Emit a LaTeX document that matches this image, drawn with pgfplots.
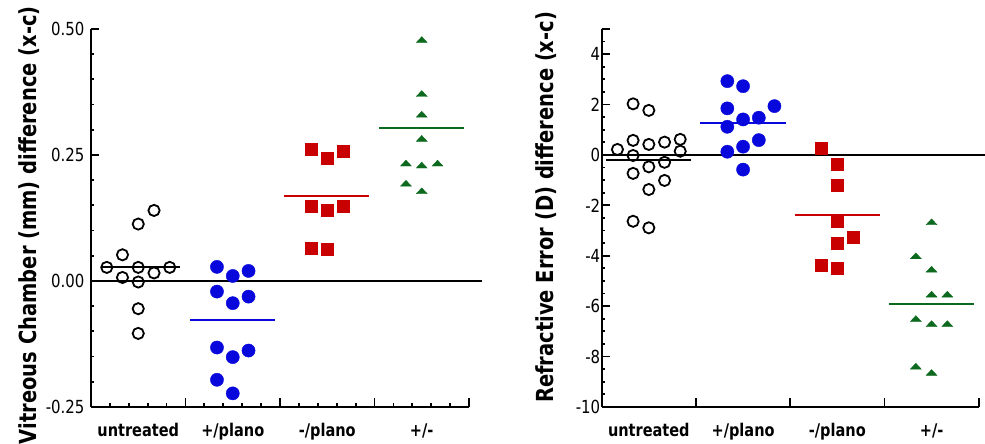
\documentclass[border=0pt]{standalone}
\usepackage{fontspec}
\setmainfont{DejaVu Sans}[FakeStretch=0.83]
\usepackage{pgfplots}
\pgfplotsset{compat=1.18}

\definecolor{grpblue}{RGB}{8,8,220}
\definecolor{grpred}{RGB}{200,0,0}
\definecolor{grpgreen}{RGB}{12,105,30}

\pgfplotsset{
  dotplot/.style={
    scale only axis, width=378pt, height=378pt,
    xmin=0, xmax=4,
    axis lines*=left,
    axis line style={line width=1.8pt},
    every tick/.style={black, line width=1.8pt},
    tick align=inside,
    major tick length=8.5pt, minor tick length=3.5pt,
    xtick={0,1,2,3,4},
    x tick label as interval,
    xticklabels={untreated,+/plano,-/plano,+/-},
    xticklabel style={font=\fontsize{17.5}{20}\selectfont\bfseries, yshift=-13pt},
    yticklabel style={font=\fontsize{18}{20}\selectfont},
    /pgf/number format/assume math mode=true,
    ylabel style={font=\fontsize{23.5}{26}\selectfont\bfseries, anchor=center},
    clip=false,
  },
  untreated/.style={only marks, mark=o, black, mark size=5.6pt,
    mark options={line width=1.8pt, fill=white}},
  plusplano/.style={only marks, mark=*, grpblue, mark size=6.6pt},
  minusplano/.style={only marks, mark=square*, grpred, mark size=6pt,
    mark options={rounded corners=1.5pt}},
  plusminus/.style={only marks, mark=triangle*, grpgreen, mark size=6.3pt,
    mark options={yscale=0.62}},
  meanline/.style={line width=2pt, mark=none},
}

\begin{document}
\begin{tikzpicture}
\useasboundingbox (-91pt,-37pt) rectangle (894pt,407pt);

% Vitreous chamber depth
\begin{axis}[dotplot,
  ymin=-0.25, ymax=0.5,
  ytick={-0.25,0,0.25,0.5}, minor tick num=4,
  yticklabel style={xshift=-3pt},
  yticklabel={\pgfmathprintnumber[fixed, fixed zerofill, precision=2]{\tick}},
  ylabel={Vitreous Chamber (mm) difference (x-c)},
  ylabel style={at={(axis description cs:-0.164,0.481)}},
]
\addplot[meanline, black] coordinates {(0,0) (4.14,0)};
\addplot[meanline, black] coordinates {(0.11,0.027) (0.94,0.027)};
\addplot[meanline, grpblue] coordinates {(1.05,-0.077) (1.95,-0.077)};
\addplot[meanline, grpred] coordinates {(2.04,0.169) (2.94,0.169)};
\addplot[meanline, grpgreen] coordinates {(3.05,0.303) (3.95,0.303)};

\addplot[untreated] coordinates {
  (0.667,0.140) (0.500,0.113) (0.333,0.052) (0.167,0.027) (0.500,0.027)
  (0.833,0.027) (0.333,0.007) (0.667,0.016) (0.500,-0.002) (0.500,-0.055)
  (0.500,-0.104)};
\addplot[plusplano] coordinates {
  (1.333,0.028) (1.500,0.010) (1.667,0.020) (1.333,-0.021) (1.500,-0.044)
  (1.667,-0.031) (1.333,-0.132) (1.500,-0.151) (1.667,-0.138)
  (1.333,-0.196) (1.500,-0.223)};
\addplot[minusplano] coordinates {
  (2.333,0.261) (2.500,0.243) (2.667,0.257) (2.333,0.149) (2.500,0.141)
  (2.667,0.149) (2.333,0.065) (2.500,0.064)};
\addplot[plusminus] coordinates {
  (3.500,0.477) (3.500,0.370) (3.500,0.329) (3.500,0.281) (3.333,0.232)
  (3.500,0.228) (3.667,0.232) (3.333,0.192) (3.500,0.177)};
\end{axis}

% Refractive error
\begin{axis}[dotplot, at={(510.7pt,0pt)},
  width=377pt,
  ymin=-10, ymax=5,
  ytick={-10,-8,...,4},
  minor ytick={-9.5,-9,...,5},
  extra y ticks={5}, extra y tick labels={},
  yticklabel style={xshift=2pt},
  ylabel={Refractive Error (D) difference (x-c)},
  ylabel style={at={(axis description cs:-0.148,0.528)}},
]
\addplot[meanline, black] coordinates {(0,0) (4.08,0)};
\addplot[meanline, black] coordinates {(0.046,-0.18) (0.945,-0.18)};
\addplot[meanline, grpblue] coordinates {(1.044,1.25) (1.954,1.25)};
\addplot[meanline, grpred] coordinates {(2.05,-2.40) (2.95,-2.40)};
\addplot[meanline, grpgreen] coordinates {(3.05,-5.90) (3.95,-5.90)};

\addplot[untreated] coordinates {
  (0.333,2.03) (0.500,1.77) (0.167,0.22) (0.333,0.58) (0.500,0.42)
  (0.667,0.51) (0.833,0.62) (0.833,0.15) (0.333,-0.02) (0.500,-0.47)
  (0.667,-0.29) (0.333,-0.73) (0.667,-1.01) (0.500,-1.37)
  (0.333,-2.63) (0.500,-2.89)};
\addplot[plusplano] coordinates {
  (1.333,2.93) (1.500,2.73) (1.333,1.85) (1.833,1.94) (1.667,1.48)
  (1.500,1.41) (1.333,1.12) (1.667,0.59) (1.500,0.33) (1.333,0.13)
  (1.500,-0.58)};
\addplot[minusplano] coordinates {
  (2.333,0.25) (2.500,-0.38) (2.500,-1.20) (2.500,-2.63) (2.667,-3.25)
  (2.500,-3.51) (2.333,-4.38) (2.500,-4.50)};
\addplot[plusminus] coordinates {
  (3.500,-2.69) (3.333,-4.04) (3.500,-4.57) (3.500,-5.56) (3.667,-5.56)
  (3.333,-6.53) (3.500,-6.73) (3.667,-6.73) (3.333,-8.42) (3.500,-8.67)};
\end{axis}
\end{tikzpicture}
\end{document}
